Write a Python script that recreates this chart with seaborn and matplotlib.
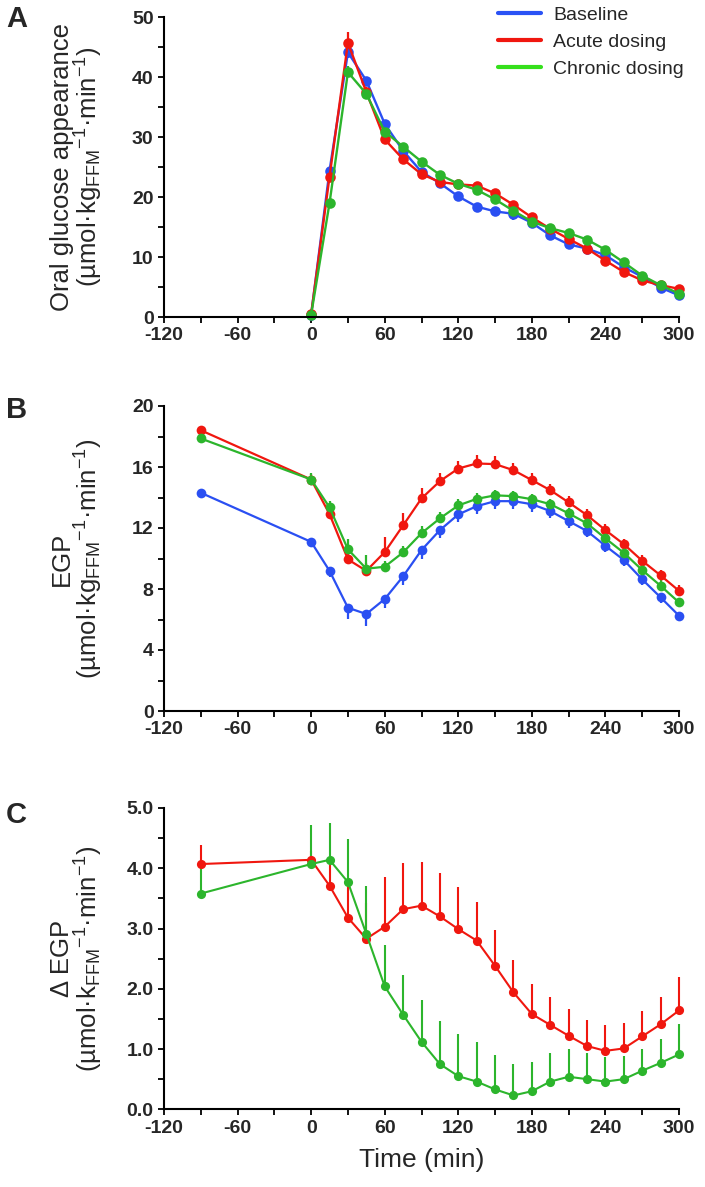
import numpy as np
import pandas as pd
import seaborn as sns
import matplotlib
matplotlib.use("Agg")
import matplotlib.pyplot as plt
from matplotlib.lines import Line2D
from matplotlib.ticker import MultipleLocator, FormatStrFormatter

# ---------------- data ----------------
groups = ["Baseline", "Acute dosing", "Chronic dosing"]

time_A = [0, 15, 30, 45, 60, 75, 90, 105, 120, 135, 150, 165, 180, 195, 210, 225, 240, 255, 270, 285, 300]
A_baseline = [0.4, 24.4, 44.1, 39.4, 32.2, 27.7, 24.2, 22.3, 20.1, 18.4, 17.6, 17.2, 15.7, 13.6, 12.1, 11.4, 10.3, 8.3, 6.7, 4.9, 3.6]
A_acute = [0.5, 23.4, 45.7, 37.5, 29.6, 26.3, 23.8, 22.5, 22.1, 21.9, 20.6, 18.7, 16.6, 14.7, 13.0, 11.4, 9.4, 7.5, 6.1, 5.3, 4.7]
A_chronic = [0.4, 19.0, 40.8, 37.2, 30.9, 28.4, 25.9, 23.7, 22.2, 21.2, 19.6, 17.7, 15.9, 14.8, 14.0, 12.9, 11.2, 9.1, 6.9, 5.3, 3.9]
A_err_baseline = [0.3, 0.8, 1.0, 0.8, 0.7, 0.6, 0.6, 0.6, 0.6, 0.6, 0.8, 1.0, 0.7, 0.6, 0.6, 0.6, 0.6, 0.6, 0.5, 0.5, 0.4]
A_err_acute = [0.3, 0.8, 1.8, 0.8, 0.6, 0.6, 0.6, 0.6, 0.6, 0.6, 0.6, 0.6, 0.6, 0.5, 0.5, 0.5, 0.5, 0.5, 0.5, 0.5, 0.4]
A_err_chronic = [0.3, 0.8, 1.0, 0.7, 0.6, 0.6, 0.6, 0.6, 0.6, 0.6, 0.6, 0.6, 0.5, 0.5, 0.5, 0.5, 0.5, 0.5, 0.5, 0.5, 0.4]

time_BC = [-90, 0, 15, 30, 45, 60, 75, 90, 105, 120, 135, 150, 165, 180, 195, 210, 225, 240, 255, 270, 285, 300]
B_baseline = [14.31, 11.09, 9.19, 6.77, 6.36, 7.34, 8.83, 10.55, 11.86, 12.89, 13.43, 13.76, 13.76, 13.56, 13.11, 12.45, 11.80, 10.83, 9.90, 8.63, 7.45, 6.25]
B_acute = [18.41, 15.18, 12.91, 9.94, 9.19, 10.42, 12.17, 13.94, 15.07, 15.90, 16.23, 16.19, 15.79, 15.14, 14.48, 13.68, 12.84, 11.86, 10.94, 9.85, 8.89, 7.88]
B_chronic = [17.87, 15.18, 13.35, 10.60, 9.33, 9.46, 10.40, 11.66, 12.63, 13.48, 13.91, 14.14, 14.09, 13.89, 13.56, 12.96, 12.30, 11.32, 10.37, 9.24, 8.21, 7.12]
B_err_baseline = [0.3, 0.3, 0.4, 0.74, 0.76, 0.61, 0.55, 0.55, 0.5, 0.5, 0.5, 0.5, 0.5, 0.5, 0.45, 0.45, 0.4, 0.4, 0.4, 0.35, 0.35, 0.35]
B_err_acute = [0.3, 0.35, 0.35, 0.35, 0.5, 1.0, 0.83, 0.66, 0.55, 0.5, 0.55, 0.5, 0.45, 0.45, 0.4, 0.4, 0.4, 0.4, 0.35, 0.35, 0.35, 0.35]
B_err_chronic = [0.3, 0.45, 0.4, 0.66, 0.9, 0.4, 0.45, 0.45, 0.4, 0.4, 0.4, 0.35, 0.35, 0.35, 0.35, 0.35, 0.35, 0.35, 0.35, 0.35, 0.35, 0.3]

C_acute = [4.07, 4.14, 3.71, 3.18, 2.83, 3.03, 3.32, 3.38, 3.20, 2.99, 2.80, 2.38, 1.94, 1.58, 1.40, 1.22, 1.05, 0.97, 1.01, 1.21, 1.41, 1.64]
C_err_acute = [0.31, 0.15, 0.43, 0.59, 0.6, 0.82, 0.77, 0.72, 0.72, 0.70, 0.64, 0.59, 0.54, 0.50, 0.47, 0.44, 0.43, 0.43, 0.43, 0.42, 0.46, 0.55]
C_chronic = [3.58, 4.07, 4.14, 3.77, 2.91, 2.04, 1.57, 1.12, 0.75, 0.55, 0.46, 0.33, 0.23, 0.30, 0.46, 0.54, 0.50, 0.46, 0.50, 0.64, 0.77, 0.91]
C_err_chronic = [0.5, 0.65, 0.61, 0.71, 0.8, 0.69, 0.66, 0.69, 0.72, 0.70, 0.65, 0.57, 0.52, 0.48, 0.47, 0.46, 0.43, 0.41, 0.39, 0.36, 0.40, 0.51]

x_ticks = [-120, -60, 0, 60, 120, 180, 240, 300]

# ---------------- style ----------------
sns.set_theme(style="ticks")
plt.rcParams["font.family"] = ["Liberation Sans", "DejaVu Sans"]
plt.rcParams["axes.unicode_minus"] = False
plt.rcParams["mathtext.fontset"] = "custom"
plt.rcParams["mathtext.rm"] = "Liberation Sans"
plt.rcParams["mathtext.it"] = "Liberation Sans:italic"
plt.rcParams["mathtext.bf"] = "Liberation Sans:bold"
plt.rcParams["mathtext.default"] = "regular"

colors = {"Baseline": "#2a4ff2", "Acute dosing": "#f0170f", "Chronic dosing": "#2cb52c"}
legend_colors = {"Baseline": "#2a52f5", "Acute dosing": "#f0170f", "Chronic dosing": "#35e01c"}

W, H = 705, 1187
fig = plt.figure(figsize=(W / 100, H / 100), dpi=100)


def axes_px(left, top, right, bottom):
    return fig.add_axes([left / W, 1 - bottom / H, (right - left) / W, (bottom - top) / H])


axA = axes_px(164, 17, 679, 317)
axB = axes_px(164, 406, 679, 711)
axC = axes_px(164, 808, 679, 1109.3)


def draw_panel(ax, t, series, errs, down, ms, lw, elw):
    names = list(series.keys())
    df = pd.concat([pd.DataFrame({"time": t, "value": series[n], "group": n}) for n in names],
                   ignore_index=True)
    for n in names:
        e = np.array(errs[n])
        z = np.zeros_like(e)
        yerr = [e, z] if down.get(n, False) else [z, e]
        ax.errorbar(t, series[n], yerr=yerr, fmt="none", ecolor=colors[n],
                    elinewidth=elw, capsize=0, zorder=2)
    sns.lineplot(data=df, x="time", y="value", hue="group", hue_order=names,
                 palette=[colors[n] for n in names], marker="o", markersize=ms,
                 markeredgewidth=0, linewidth=lw, legend=False, ax=ax, zorder=3,
                 estimator=None, sort=False)


draw_panel(axA, time_A,
           {"Baseline": A_baseline, "Acute dosing": A_acute, "Chronic dosing": A_chronic},
           {"Baseline": A_err_baseline, "Acute dosing": A_err_acute, "Chronic dosing": A_err_chronic},
           {"Baseline": True}, ms=7.6, lw=1.7, elw=1.6)
draw_panel(axB, time_BC,
           {"Baseline": B_baseline, "Acute dosing": B_acute, "Chronic dosing": B_chronic},
           {"Baseline": B_err_baseline, "Acute dosing": B_err_acute, "Chronic dosing": B_err_chronic},
           {"Baseline": True}, ms=7.0, lw=1.6, elw=1.6)
draw_panel(axC, time_BC,
           {"Acute dosing": C_acute, "Chronic dosing": C_chronic},
           {"Acute dosing": C_err_acute, "Chronic dosing": C_err_chronic},
           {}, ms=6.6, lw=1.5, elw=1.5)

label_fs = 18.5

for ax, ymax, ymaj, ymin, fmt in [(axA, 50, 10, 5, "%d"), (axB, 20, 4, 2, "%d"), (axC, 5, 1.0, 0.5, "%.1f")]:
    ax.set_xlim(-120, 300)
    ax.set_ylim(0, ymax)
    ax.set_xticks(x_ticks)
    ax.xaxis.set_minor_locator(MultipleLocator(30))
    ax.yaxis.set_major_locator(MultipleLocator(ymaj))
    ax.yaxis.set_minor_locator(MultipleLocator(ymin))
    ax.yaxis.set_major_formatter(FormatStrFormatter(fmt))
    for s in ["top", "right"]:
        ax.spines[s].set_visible(False)
    for s in ["left", "bottom"]:
        ax.spines[s].set_linewidth(1.5)
        ax.spines[s].set_color("black")
    ax.tick_params(which="both", direction="out", length=4.5, width=1.3, color="black")
    ax.tick_params(axis="both", which="major", labelsize=14, pad=3)
    for lab in ax.get_xticklabels() + ax.get_yticklabels():
        lab.set_fontweight("bold")
    ax.set_xlabel("")
    ax.patch.set_alpha(0)
    for sp in ax.spines.values():
        sp.set_zorder(5)
    for art in ax.lines + ax.collections:
        art.set_clip_on(False)

axA.set_ylabel("Oral glucose appearance\n(µmol·kg$_{FFM}$$^{-1}$·min$^{-1}$)", fontsize=label_fs, linespacing=0.95)
axB.set_ylabel("EGP\n(µmol·kg$_{FFM}$$^{-1}$·min$^{-1}$)", fontsize=label_fs, linespacing=0.95)
axC.set_ylabel("Δ EGP\n(µmol·k$_{FFM}$$^{-1}$·min$^{-1}$)", fontsize=label_fs, linespacing=0.95)
for ax in (axA, axB, axC):
    ax.yaxis.set_label_coords(-0.115, 0.5)
axC.set_xlabel("Time (min)", fontsize=19, labelpad=8)

handles = [Line2D([0], [0], color=legend_colors[n], lw=3) for n in groups]
fig.legend(handles, groups, loc="upper left", bbox_to_anchor=(498 / W, 1 - 6 / H),
           frameon=False, fontsize=14, handlelength=2.2, handletextpad=0.65,
           labelspacing=0.48, borderpad=0, borderaxespad=0)

for letter, y in [("A", 5), ("B", 396), ("C", 801)]:
    fig.text(6 / W, 1 - y / H, letter, fontsize=21, fontweight="bold", va="top", ha="left")

fig.savefig("out.png", dpi=100)
